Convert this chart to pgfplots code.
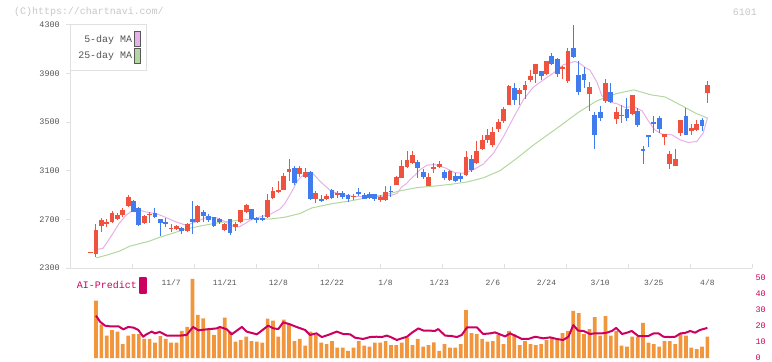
\documentclass[border=0pt]{standalone}
\usepackage{pgfplots}
\pgfplotsset{compat=1.18}
\usepackage{pgfplotstable}
\usepackage{fontspec}
\setmainfont{Liberation Mono}
\definecolor{upc}{RGB}{240,82,64}
\definecolor{dnc}{RGB}{64,124,238}
\definecolor{maf}{RGB}{232,176,232}
\definecolor{mat}{RGB}{178,216,160}
\definecolor{volc}{RGB}{242,150,62}
\definecolor{aic}{RGB}{204,0,96}
\definecolor{axc}{RGB}{224,224,224}
\definecolor{txc}{RGB}{85,85,85}

\pgfplotstableread{
i O H L C
-1 2424 2432 2424 2432
0 2415 2663 2391 2611
1 2646 2710 2597 2693
2 2663 2701 2638 2679
3 2677 2768 2671 2751
4 2704 2751 2691 2734
5 2734 2795 2720 2778
6 2808 2899 2798 2883
9 2674 2740 2666 2726
10 2737 2762 2668 2745
14 2625 2660 2597 2633
15 2625 2658 2611 2644
17 2605 2671 2597 2660
19 2679 2817 2674 2808
24 2613 2671 2605 2660
26 2638 2679 2605 2666
27 2679 2781 2674 2775
28 2761 2825 2753 2817
32 2720 2907 2712 2858
33 2877 2967 2872 2932
34 2926 3017 2921 2943
35 2946 3083 2940 3056
36 3091 3196 3017 3113
38 3072 3138 3050 3119
39 3050 3127 3037 3091
41 2869 2932 2836 2918
43 2869 2913 2863 2893
45 2905 2932 2877 2915
48 2885 2905 2858 2893
53 2858 2899 2844 2885
54 2858 2973 2850 2926
56 2987 3056 2981 3047
57 3042 3188 3037 3138
58 3132 3262 3119 3188
59 3165 3259 3160 3229
62 2979 3080 2971 3053
63 3116 3163 3080 3132
64 3130 3177 3122 3154
66 3025 3107 3017 3099
69 3066 3259 3061 3212
71 3163 3342 3155 3259
72 3278 3396 3272 3352
73 3352 3446 3328 3394
74 3314 3457 3300 3418
75 3446 3528 3418 3501
76 3511 3621 3492 3608
77 3643 3808 3638 3795
79 3734 3781 3643 3767
80 3767 3836 3693 3808
81 3844 3929 3828 3882
82 3899 3979 3825 3979
84 3899 4006 3890 4001
87 3937 3965 3855 3956
88 3841 4108 3825 4088
92 3731 3833 3594 3787
95 3678 3855 3657 3822
97 3528 3624 3484 3581
98 3550 3644 3492 3561
100 3567 3726 3560 3721
106 3375 3406 3314 3404
107 3157 3259 3116 3237
108 3141 3278 3136 3196
109 3410 3519 3383 3517
111 3429 3484 3396 3451
112 3437 3520 3424 3484
114 3740 3836 3657 3808
}\uptab

\pgfplotstableread{
i O H L C
7 2850 2858 2757 2762
8 2792 2798 2646 2658
11 2753 2792 2715 2720
12 2701 2701 2561 2671
13 2677 2715 2638 2668
16 2633 2638 2578 2605
18 2701 2850 2580 2677
20 2759 2775 2682 2728
21 2724 2742 2677 2696
22 2720 2720 2635 2646
23 2704 2709 2665 2677
25 2701 2707 2575 2589
29 2783 2789 2699 2707
30 2715 2720 2671 2693
31 2712 2733 2690 2695
37 3124 3138 2981 3000
40 3091 3099 2858 2869
42 2872 2899 2844 2852
44 2940 2948 2872 2880
46 2918 2934 2872 2885
47 2899 2913 2844 2872
49 2926 2962 2893 2913
50 2899 2921 2866 2872
51 2913 2926 2866 2877
52 2907 2913 2850 2866
55 2934 2973 2885 2926
60 3171 3190 3039 3122
61 3094 3113 3033 3047
65 3089 3103 3025 3039
67 3061 3080 3006 3017
68 3061 3080 3011 3033
70 3199 3232 3094 3107
78 3781 3822 3643 3684
83 3918 3920 3849 3877
85 4042 4072 3968 3979
86 4020 4025 3874 3899
89 4108 4300 4026 4034
90 3888 4006 3723 3751
91 3896 3956 3778 3847
93 3556 3583 3278 3396
94 3581 3630 3507 3534
96 3748 3822 3657 3666
99 3610 3698 3507 3534
101 3589 3616 3457 3473
102 3278 3305 3157 3259
103 3396 3398 3300 3375
104 3500 3553 3410 3484
105 3534 3548 3410 3446
110 3548 3616 3391 3396
113 3520 3534 3429 3465
}\dntab

\begin{document}
\begin{tikzpicture}[x=1bp,y=1bp]
\path[use as bounding box] (0,0) rectangle (772,361);
\node[anchor=west, text=black!22, font=\fontsize{10}{12}\selectfont, inner sep=0pt] at (14,349) {(C)https://chartnavi.com/};
\node[anchor=east, text=black!22, font=\fontsize{10}{12}\selectfont, inner sep=0pt] at (757,349) {6101};

\begin{axis}[
  at={(70.3bp,93bp)}, anchor=south west,
  width=681.7bp, height=243bp, scale only axis,
  xmin=-4.79, xmax=122.32, ymin=2300, ymax=4300,
  axis x line*=bottom, axis y line*=left,
  axis line style={draw=axc, line width=1bp},
  tick style={draw=axc, line width=1bp},
  major tick length=4bp,
  xtick align=inside, ytick align=outside,
  xtick={6.77,18.33,29.89,41.45,53.01,64.57,76.14,87.70,99.26,110.82,122.32},
  xticklabels={},
  extra x ticks={14,24,34,44,54,64,74,84,94,104,114},
  extra x tick labels={11/7,11/21,12/8,12/22,1/8,1/23,2/6,2/24,3/10,3/25,4/8},
  extra x tick style={tick style={draw=none}, xticklabel style={anchor=center, yshift=-14.5bp, font=\fontsize{8}{9}\selectfont, text=txc}},
  ytick={2300,2700,3100,3500,3900,4300},
  yticklabels={2300,2700,3100,3500,3900,4300},
  yticklabel style={font=\fontsize{8.5}{10}\selectfont, text=txc, xshift=-3bp},
  legend plot pos=right, legend cell align=right,
  legend style={at={(0,1)}, anchor=north west, yshift=1bp, draw=axc, line width=1bp, fill=white,
    font=\fontsize{10}{12}\selectfont, text=txc, inner xsep=5.5bp, inner ysep=7bp, row sep=1.5bp,
    /tikz/every even column/.append style={column sep=7bp}},
]
\addplot[maf, line width=1bp, legend image code/.code={\draw[draw=black!65, fill=maf, line width=0.8bp] (0bp,-7.3bp) rectangle (6bp,7.3bp);}] coordinates {
(0.1,2452)(1.3,2462)(3.1,2580)(4.3,2666)(5.6,2734)(6.8,2773)(8.1,2776)(9.3,2761)(11.2,2748)(13.1,2715)(14.9,2679)(16.8,2652)(18.6,2679)(20.5,2715)(22.4,2715)(24.2,2679)(25.5,2644)(26.7,2638)(28.0,2671)(28.7,2693)(30.2,2715)(32.6,2745)(34.3,2785)(35.2,2830)(36.4,2920)(37.6,3020)(39.0,3080)(40.2,3088)(42.1,3000)(43.9,2930)(45.8,2905)(48.3,2887)(50.8,2890)(53.3,2888)(55.1,2899)(56.1,2913)(57.0,2967)(57.9,2995)(58.5,3025)(59.8,3078)(60.4,3108)(61.7,3146)(63.2,3152)(65.1,3124)(66.9,3085)(68.5,3080)(70.4,3110)(72.2,3155)(74.1,3244)(75.9,3375)(77.8,3534)(79.7,3685)(81.5,3787)(83.4,3848)(85.3,3905)(87.1,3972)(89.3,4000)(90.2,3984)(91.2,3951)(92.1,3929)(93.4,3830)(94.3,3720)(95.0,3690)(96.0,3665)(97.3,3649)(98.6,3622)(100.2,3628)(101.8,3595)(103.0,3510)(104.2,3437)(105.5,3402)(107.4,3396)(108.9,3355)(110.4,3333)(112.0,3341)(113.2,3410)(114.0,3534)
};
\addlegendentry{5-day MA}
\addplot[mat, line width=1bp, legend image code/.code={\draw[draw=black!65, fill=mat, line width=0.8bp] (0bp,-7.3bp) rectangle (6bp,7.3bp);}] coordinates {
(0,2383)(1.9,2405)(4.3,2437)(6.2,2478)(8.1,2500)(9.9,2520)(11.8,2552)(14.2,2585)(16.8,2620)(19.4,2645)(22.9,2674)(26.7,2693)(29.6,2705)(32.4,2703)(35.2,2718)(38,2748)(40.3,2795)(44.2,2831)(47.4,2852)(50.5,2878)(53.9,2903)(56.7,2935)(59.9,2962)(62.8,2973)(66,2988)(69.2,3008)(72.2,3042)(75.3,3100)(78.5,3204)(81.5,3310)(84.6,3408)(86.5,3468)(89.9,3580)(93.4,3676)(97,3735)(100.3,3766)(103.5,3725)(106.1,3708)(109.4,3632)(111.9,3572)(114.1,3533)
};
\addlegendentry{25-day MA}
% wicks
\addplot[draw=none, mark=none, forget plot, error bars/.cd, y dir=both, y explicit, error mark=none,
  error bar style={draw=upc, line width=1bp}]
  table[x=i, y expr={(\thisrow{H}+\thisrow{L})/2}, y error expr={(\thisrow{H}-\thisrow{L})/2}] {\uptab};
\addplot[draw=none, mark=none, forget plot, error bars/.cd, y dir=both, y explicit, error mark=none,
  error bar style={draw=dnc, line width=1bp}]
  table[x=i, y expr={(\thisrow{H}+\thisrow{L})/2}, y error expr={(\thisrow{H}-\thisrow{L})/2}] {\dntab};
% bodies
\addplot[draw=none, mark=none, forget plot, error bars/.cd, y dir=both, y explicit, error mark=none,
  error bar style={draw=upc, line width=4.8bp, line cap=butt}]
  table[x=i, y expr={(\thisrow{O}+\thisrow{C})/2}, y error expr={(\thisrow{C}-\thisrow{O})/2}] {\uptab};
\addplot[draw=none, mark=none, forget plot, error bars/.cd, y dir=both, y explicit, error mark=none,
  error bar style={draw=dnc, line width=4.8bp, line cap=butt}]
  table[x=i, y expr={(\thisrow{O}+\thisrow{C})/2}, y error expr={(\thisrow{O}-\thisrow{C})/2}] {\dntab};
\end{axis}

\begin{axis}[
  at={(70.3bp,3bp)}, anchor=south west,
  width=681.7bp, height=80bp, scale only axis,
  xmin=-4.79, xmax=122.32, ymin=0, ymax=50,
  axis x line=none, axis y line*=right,
  axis line style={draw=none},
  tick style={draw=none},
  xtick=\empty,
  ytick={0,10,20,30,40,50}, yticklabels={0,10,20,30,40,50},
  yticklabel style={font=\fontsize{8.5}{10}\selectfont, text=aic, anchor=west},
  legend plot pos=right,
  legend style={at={(0,1)}, anchor=north west, xshift=4.5bp, yshift=1.5bp, draw=none, fill=none,
    font=\fontsize{10}{12}\selectfont, text=aic, inner sep=0pt,
    /tikz/every even column/.append style={column sep=8bp}},
]
\addplot[ybar, bar width=3.7bp, fill=volc, draw=none, forget plot] coordinates {
(0,35.8)(1,21)(2,14)(3,17.5)(4,16.5)(5,8.75)(6,14)(7,15)(8,15)(9,11.9)(10,11.9)(11,9.6)(12,13.75)(13,11.9)(14,9.6)(15,9.6)(16,16.9)(17,19.4)(18,49.4)(19,26.9)(20,24.8)(21,17.5)(22,14.4)(23,19.2)(24,25.2)(25,16.5)(26,10.2)(27,11.25)(28,13.3)(29,10.6)(30,10.2)(31,9.6)(32,24.6)(33,23.3)(34,13.3)(35,24)(36,21)(37,10.6)(38,11.9)(39,7.7)(40,16.5)(41,14.4)(42,9.6)(43,8.75)(44,10.6)(45,6.5)(46,6.5)(47,4.4)(48,6.5)(49,10.6)(50,7.7)(51,7.1)(52,9.6)(53,9.6)(54,10.6)(55,8.1)(56,8.1)(57,9.6)(58,12.7)(59,8.1)(60,11.9)(61,7.1)(62,8.1)(63,9.8)(64,4.4)(65,8.75)(66,6.5)(67,6.5)(68,8.75)(69,30)(70,15.6)(71,15)(72,11.9)(73,10.2)(74,10.6)(75,14.4)(76,8.75)(77,16.9)(78,14.8)(79,8.1)(80,10.6)(81,8.75)(82,8.1)(83,8.75)(84,11.25)(85,12.7)(86,11.25)(87,15.6)(88,16.9)(89,29.4)(90,28.1)(91,15)(92,18.1)(93,25.6)(94,14)(95,26.25)(96,14)(97,16.9)(98,7.7)(99,7.1)(100,13.3)(101,13.3)(102,21.9)(103,9.6)(104,8.75)(105,7.1)(106,10.6)(107,10.6)(108,8.75)(109,15.3)(110,14)(111,6.5)(112,5.6)(113,7.1)(114,13.3)
};
\addplot[aic, line width=2bp, line join=round, legend image code/.code={\fill[aic] (0bp,-7.8bp) rectangle (6.4bp,7.8bp);}] coordinates {
(0,26.5)(0.75,22.7)(1.7,20.2)(2.6,19.8)(4.2,19.8)(5.1,17.9)(6,19.4)(7,19)(7.9,17.5)(8.8,13.3)(9.4,14.8)(10.4,16.5)(11,15.4)(11.9,16.3)(13.2,14)(15.7,14)(16.9,14.4)(18.1,19.4)(19.1,17.3)(20.6,17.9)(22.5,18.5)(23.1,19.4)(24.4,17.9)(25.3,14.8)(27.2,19.4)(28.1,16.5)(30,14.8)(32.1,20.2)(33.1,18.5)(34,18.1)(34.9,22.3)(36.2,21)(37.4,19.4)(39,17.5)(39.9,14.4)(41.1,15.4)(42.1,13.1)(43.3,14.4)(44.9,16.5)(46.1,15)(47.4,14.8)(48.3,12.7)(49.8,11.9)(51.1,13.1)(52.3,13.3)(53.3,13.1)(54.2,14)(54.8,13.3)(56.1,11.25)(57,12.3)(58,13.3)(58.9,15.8)(60.1,18.5)(61.1,17.1)(62.3,17.1)(63.2,16.9)(63.8,18.1)(65.1,14)(66.3,13.75)(67.3,13.1)(68.2,14.4)(69.2,19.2)(70.4,19.2)(71,19.2)(72.2,15)(73.5,15.4)(74.4,16)(75.3,14.8)(76.3,13.5)(77.2,15.4)(78.1,14)(79.4,11.9)(80.6,11.9)(81.9,13.3)(83.4,12.3)(84.7,12.9)(85.9,11.9)(87.1,11.25)(88.1,13.3)(89,20.6)(89.9,17.1)(90.9,16.9)(92.1,15)(93,15.4)(94.3,15.4)(95.2,15.8)(96.2,16.9)(97,18.8)(98.1,15)(99,15.8)(99.9,16.9)(101.1,13.75)(102.1,13.75)(103,13.75)(104,15.4)(104.9,15.4)(105.8,13.3)(107.1,13.1)(108,13.3)(109,15.4)(109.8,15.6)(110.8,16.9)(111.7,15.8)(112.6,17.5)(114,18.8)
};
\addlegendentry{AI-Predict}
\end{axis}
\end{tikzpicture}
\end{document}
